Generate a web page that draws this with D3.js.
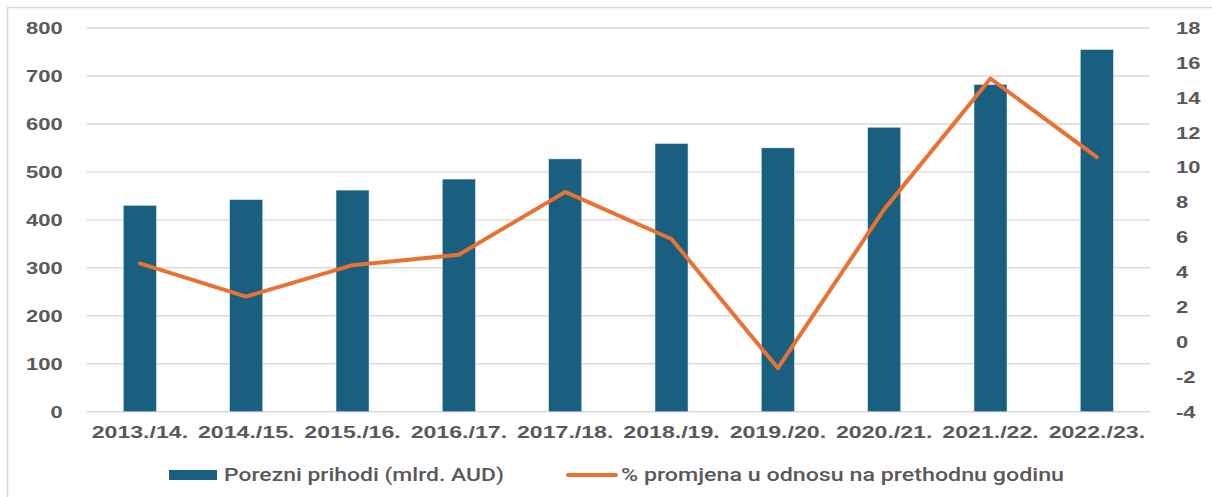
<!DOCTYPE html>
<html>
<head>
<meta charset="utf-8">
<script src="https://cdn.jsdelivr.net/npm/d3@7"></script>
<style>
	body { margin: 0; background: #fff; }
	text { font-family: "Liberation Sans", Arial, sans-serif; fill: #595959; }
</style>
</head>
<body>
<div id="chart"></div>
<script>
var years = ["2013./14.", "2014./15.", "2015./16.", "2016./17.", "2017./18.",
	"2018./19.", "2019./20.", "2020./21.", "2021./22.", "2022./23."];
var revenue = [430, 442, 462, 485, 527, 559, 550, 593, 682, 755];
var change = [4.5, 2.6, 4.4, 5.0, 8.6, 5.9, -1.5, 7.6, 15.1, 10.6];
var leftTicks = [0, 100, 200, 300, 400, 500, 600, 700, 800];
var rightTicks = [-4, -2, 0, 2, 4, 6, 8, 10, 12, 14, 16, 18];
var seriesNames = ["Porezni prihodi (mlrd. AUD)", "% promjena u odnosu na prethodnu godinu"];

var svgWidth = 1212;
var svgHeight = 497;

var margin = {
	top: 28,
	bottom: 85.3,
	left: 86.7,
	right: 62
};

var width = svgWidth - margin.left - margin.right;
var height = svgHeight - margin.top - margin.bottom;

// text in the picture is stretched sideways
var stretch = 1.29;

var svg = d3.select("#chart")
	.append("svg")
	.attr("width", svgWidth)
	.attr("height", svgHeight);

svg.append("rect")
	.attr("x", 7.5)
	.attr("y", 7.5)
	.attr("width", svgWidth + 20)
	.attr("height", svgHeight + 20)
	.attr("fill", "none")
	.attr("stroke", "#d9d9d9")
	.attr("stroke-width", 1.5);

var chartGroup = svg.append("g")
	.attr("transform", `translate(${margin.left}, ${margin.top})`);

var xScale = d3.scaleBand()
	.domain(years)
	.range([0, width])
	.paddingInner(0.69)
	.paddingOuter(0.345);

var yLeft = d3.scaleLinear()
	.domain([0, 800])
	.range([height, 0]);

var yRight = d3.scaleLinear()
	.domain([-4, 18])
	.range([height, 0]);

// gridlines
chartGroup.append("g")
	.selectAll("line")
	.data(leftTicks)
	.enter()
	.append("line")
	.attr("x1", 0)
	.attr("x2", width)
	.attr("y1", d => yLeft(d))
	.attr("y2", d => yLeft(d))
	.attr("stroke", "#d9d9d9")
	.attr("stroke-width", 1.4);

function stretchText(sel, factor) {
	sel.each(function() {
		var w = this.getComputedTextLength();
		d3.select(this)
			.attr("textLength", w * factor)
			.attr("lengthAdjust", "spacingAndGlyphs");
	});
}

var leftAxis = d3.axisLeft(yLeft).tickValues(leftTicks).tickSize(0).tickPadding(24);
var leftG = chartGroup.append("g").call(leftAxis);
leftG.select(".domain").remove();
leftG.selectAll("text")
	.attr("font-size", 17)
	.attr("font-weight", "bold")
	.attr("fill", "#595959")
	.style("font-family", "Liberation Sans")
	.call(stretchText, stretch);

var rightAxis = d3.axisRight(yRight)
	.tickValues(rightTicks)
	.tickFormat(d => String(d))
	.tickSize(0)
	.tickPadding(26);
var rightG = chartGroup.append("g")
	.attr("transform", `translate(${width}, 0)`)
	.call(rightAxis);
rightG.select(".domain").remove();
rightG.selectAll("text")
	.attr("font-size", 17)
	.attr("font-weight", "bold")
	.attr("fill", "#595959")
	.style("font-family", "Liberation Sans")
	.call(stretchText, stretch);

var bottomAxis = d3.axisBottom(xScale).tickSize(0).tickPadding(14);
var bottomG = chartGroup.append("g")
	.attr("transform", `translate(0, ${height})`)
	.call(bottomAxis);
bottomG.select(".domain").remove();
bottomG.selectAll("text")
	.attr("font-size", 17)
	.attr("font-weight", "bold")
	.attr("fill", "#595959")
	.style("font-family", "Liberation Sans")
	.call(stretchText, 1.36);

// bars
chartGroup.selectAll("rect.bar")
	.data(revenue)
	.enter()
	.append("rect")
	.attr("class", "bar")
	.attr("x", (d, i) => xScale(years[i]))
	.attr("y", d => yLeft(d))
	.attr("width", xScale.bandwidth())
	.attr("height", d => height - yLeft(d))
	.attr("fill", "#185f80")
	.attr("stroke", "#d6e3ea")
	.attr("stroke-width", 0.5);

// line
var line = d3.line()
	.x((d, i) => xScale(years[i]) + xScale.bandwidth() / 2)
	.y(d => yRight(d));

chartGroup.append("path")
	.datum(change)
	.attr("d", line)
	.attr("fill", "none")
	.attr("stroke", "#e97132")
	.attr("stroke-width", 4)
	.attr("stroke-linejoin", "round")
	.attr("stroke-linecap", "round");

// legend
var legend = svg.append("g");

legend.append("rect")
	.attr("x", 169)
	.attr("y", 470)
	.attr("width", 48)
	.attr("height", 10)
	.attr("fill", "#185f80");

legend.append("text")
	.attr("x", 224)
	.attr("y", 481)
	.attr("font-size", 18)
	.attr("font-weight", 500)
	.style("font-family", "Roboto")
	.attr("textLength", 280)
	.attr("lengthAdjust", "spacingAndGlyphs")
	.text(seriesNames[0]);

legend.append("line")
	.attr("x1", 568)
	.attr("x2", 616)
	.attr("y1", 475)
	.attr("y2", 475)
	.attr("stroke", "#e97132")
	.attr("stroke-width", 4)
	.attr("stroke-linecap", "round");

legend.append("text")
	.attr("x", 621)
	.attr("y", 481)
	.attr("font-size", 18)
	.attr("font-weight", 500)
	.style("font-family", "Roboto")
	.attr("textLength", 443)
	.attr("lengthAdjust", "spacingAndGlyphs")
	.text(seriesNames[1]);
</script>
</body>
</html>
